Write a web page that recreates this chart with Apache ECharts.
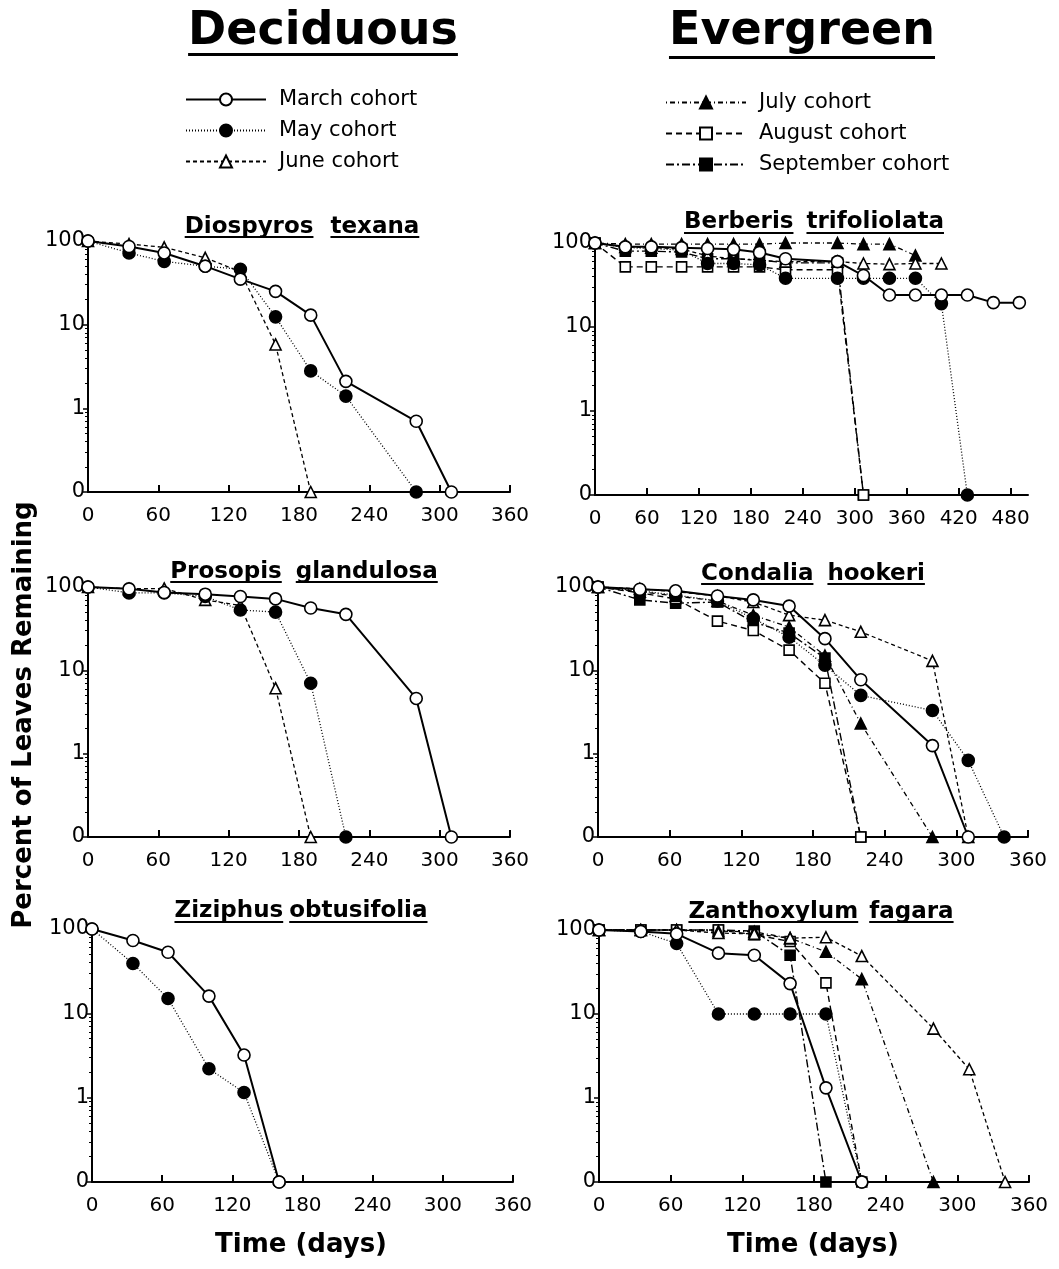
<!DOCTYPE html>
<html>
<head>
<meta charset="utf-8">
<title>Percent of leaves remaining</title>
<script src="https://cdn.jsdelivr.net/npm/echarts@6/dist/echarts.min.js"></script>
<style>
html, body { margin: 0; padding: 0; background: #fff; }
#chart { width: 1059px; height: 1269px; }
</style>
</head>
<body>
<div id="chart"></div>
<script>
// y axis is log10(percent); a value of 0 is drawn one decade below 1
var yTickLabels = ['0', '1', '10', '100']

// Diospyros texana
var diosDays = [0, 35, 65, 100, 130, 160, 190, 220, 280, 310]
var diosMarch = [100, 86, 72, 50, 35, 25, 13, 2.1, 0.7, 0]
var diosMay = [100, 72, 57, 50, 46, 12.4, 2.8, 1.4, 0]
var diosJune = [100, 92, 84, 63, 43, 5.8, 0]

// Prosopis glandulosa
var prosDays = [0, 35, 65, 100, 130, 160, 190, 220, 280, 310]
var prosMarch = [100, 95, 86, 82, 77, 72, 56, 47, 4.6, 0]
var prosMay = [100, 85, 85, 77, 53, 50, 7, 0]
var prosJune = [100, 95, 96, 70, 60, 6.1, 0]

// Ziziphus obtusifolia
var zizDays = [0, 35, 65, 100, 130, 160]
var zizMarch = [100, 73, 53, 16, 3.2, 0]
var zizMay = [100, 39, 15, 2.2, 1.15, 0]

// Berberis trifoliolata
var berbDays = [0, 35, 65, 100, 130, 160, 190, 220, 280, 310, 340, 370, 400, 430, 460, 490]
var berbMarch = [100, 90, 90, 88, 86, 84, 77, 65, 60, 41, 24, 24, 24, 24, 19.5, 19.5]
var berbMay = [100, 88, 86, 82, 57, 57, 55, 38, 38, 38, 38, 38, 19, 0]
var berbJune = [100, 90, 88, 85, 70, 65, 62, 60, 60, 57, 56, 57, 57]
var berbJuly = [100, 97, 97, 97, 97, 97, 97, 100, 100, 97, 97, 71]
var berbAug = [100, 52, 52, 52, 52, 52, 52, 48, 48, 0]
var berbSep = [100, 80, 80, 78, 65, 65, 63, 58, 58, 0]

// Condalia hookeri
var condDays = [0, 35, 65, 100, 130, 160, 190, 220, 280, 310, 340]
var condMarch = [100, 94, 90, 78, 70, 59, 24, 7.7, 1.25, 0]
var condMay = [100, 90, 80, 68, 42, 25, 11.5, 5, 3.3, 0.83, 0]
var condJune = [100, 95, 88, 78, 66, 46, 40, 29, 13, 0]
var condJuly = [100, 88, 78, 68, 46, 33, 15, 2.3, 0]
var condAug = [100, 85, 72, 39, 30, 17.5, 7, 0]
var condSep = [100, 70, 64, 66, 38, 28, 14, 0]

// Zanthoxylum fagara
var zanDays = [0, 35, 65, 100, 130, 160, 190, 220, 280, 310, 340]
var zanMarch = [100, 96, 90, 53, 50, 23, 1.32, 0]
var zanMay = [100, 96, 69, 10, 10, 10, 10, 0]
var zanJune = [100, 100, 100, 92, 90, 80, 82, 49, 6.7, 2.2, 0]
var zanJuly = [100, 100, 100, 97, 95, 80, 55, 26, 0]
var zanAug = [100, 100, 100, 100, 88, 73, 23.5, 0]
var zanSep = [100, 100, 100, 100, 97, 50, 0]

var FONT = '"DejaVu Sans", "Liberation Sans", sans-serif'

// look of each cohort
var cohortStyle = {
  'March cohort': { symbol: 'circle', size: 12, fill: '#fff', width: 2, type: 'solid' },
  'May cohort': { symbol: 'circle', size: 12, fill: '#000', width: 1.3, type: [1, 2] },
  'June cohort': { symbol: 'triangle', size: 11, fill: '#fff', width: 1.3, type: [4, 3] },
  'July cohort': { symbol: 'triangle', size: 11, fill: '#000', width: 1.3, type: [1, 3, 5, 3] },
  'August cohort': { symbol: 'rect', size: 10, fill: '#fff', width: 1.4, type: [6, 4] },
  'September cohort': { symbol: 'rect', size: 10, fill: '#000', width: 1.4, type: [8, 3, 2, 3] }
}

var panels = [
  { words: ['Diospyros', 'texana'], gap: 17, cx: 302, ty: 227, uy: 236,
    grid: { left: 88, top: 241, width: 422, height: 251 }, xMax: 360,
    lines: [['June cohort', diosDays, diosJune], ['May cohort', diosDays, diosMay], ['March cohort', diosDays, diosMarch]] },
  { words: ['Berberis', 'trifoliolata'], gap: 13, cx: 814, ty: 222, uy: 232,
    grid: { left: 595, top: 243, width: 433, height: 252 }, xMax: 500,
    lines: [['September cohort', berbDays, berbSep], ['August cohort', berbDays, berbAug], ['July cohort', berbDays, berbJuly],
      ['June cohort', berbDays, berbJune], ['May cohort', berbDays, berbMay], ['March cohort', berbDays, berbMarch]] },
  { words: ['Prosopis', 'glandulosa'], gap: 14, cx: 304, ty: 572, uy: 581,
    grid: { left: 88, top: 587, width: 422, height: 250 }, xMax: 360,
    lines: [['June cohort', prosDays, prosJune], ['May cohort', prosDays, prosMay], ['March cohort', prosDays, prosMarch]] },
  { words: ['Condalia', 'hookeri'], gap: 14, cx: 813, ty: 574, uy: 583,
    grid: { left: 598, top: 587, width: 430, height: 250 }, xMax: 360,
    lines: [['September cohort', condDays, condSep], ['August cohort', condDays, condAug], ['July cohort', condDays, condJuly],
      ['June cohort', condDays, condJune], ['May cohort', condDays, condMay], ['March cohort', condDays, condMarch]] },
  { words: ['Ziziphus', 'obtusifolia'], gap: 6, cx: 301, ty: 911, uy: 921,
    grid: { left: 92, top: 929, width: 421, height: 253 }, xMax: 360,
    lines: [['May cohort', zizDays, zizMay], ['March cohort', zizDays, zizMarch]] },
  { words: ['Zanthoxylum', 'fagara'], gap: 11, cx: 821, ty: 912, uy: 921,
    grid: { left: 599, top: 930, width: 430, height: 252 }, xMax: 360,
    lines: [['September cohort', zanDays, zanSep], ['August cohort', zanDays, zanAug], ['July cohort', zanDays, zanJuly],
      ['June cohort', zanDays, zanJune], ['May cohort', zanDays, zanMay], ['March cohort', zanDays, zanMarch]] }
]

function toLog (v) {
  return v > 0 ? Math.log10(v) : -1
}

// log minor ticks 2..9 in each decade
var minorTicks = []
for (var d = -1; d < 2; d++) {
  for (var k = 2; k < 10; k++) minorTicks.push(d + Math.log10(k))
}

var measure = document.createElement('canvas').getContext('2d')
function textWidth (str, font) {
  measure.font = font
  return measure.measureText(str).width
}

// title with each word underlined separately
function underlinedTitle (words, gap, cx, ty, uy, size, thick) {
  var font = 'bold ' + size + 'px ' + FONT
  var widths = words.map(function (w) { return textWidth(w, font) })
  var total = widths.reduce(function (a, b) { return a + b }, 0) + gap * (words.length - 1)
  var x = cx - total / 2
  var out = []
  words.forEach(function (w, i) {
    out.push({ type: 'text', x: x, y: ty, style: { text: w, font: font, fill: '#000', textAlign: 'left', textVerticalAlign: 'middle' } })
    out.push({ type: 'rect', shape: { x: x, y: uy, width: widths[i], height: thick }, style: { fill: '#000' } })
    x += widths[i] + gap
  })
  return out
}

var grids = []
var xAxes = []
var yAxes = []
var series = []
var graphics = []

panels.forEach(function (p, i) {
  grids.push(Object.assign({ outerBoundsMode: 'none', containLabel: false }, p.grid))
  xAxes.push({
    gridIndex: i, type: 'value', min: 0, max: p.xMax, interval: 60,
    axisLine: { show: true, onZero: false, lineStyle: { color: '#000', width: 2 } },
    axisTick: { show: true, inside: true, length: 7, lineStyle: { color: '#000', width: 2 } },
    axisLabel: { color: '#000', fontSize: 20, fontFamily: FONT, margin: 14, showMaxLabel: p.xMax === 360 },
    splitLine: { show: false }
  })
  yAxes.push({
    gridIndex: i, type: 'value', min: -1, max: 2, interval: 1,
    axisLine: { show: true, onZero: false, lineStyle: { color: '#000', width: 2 } },
    axisTick: { show: true, inside: false, length: 5, lineStyle: { color: '#000', width: 1.5 } },
    axisLabel: { color: '#000', fontSize: 21, fontFamily: FONT, margin: 3,
      formatter: function (v) { return yTickLabels[Math.round(v) + 1] } },
    splitLine: { show: false }
  })
  yAxes.push({
    gridIndex: i, type: 'value', min: -1, max: 2,
    axisLine: { show: false },
    axisTick: { show: true, inside: true, length: 3, customValues: minorTicks, lineStyle: { color: '#000', width: 1 } },
    axisLabel: { show: false },
    splitLine: { show: false }
  })
  p.lines.forEach(function (l) {
    var st = cohortStyle[l[0]]
    var days = l[1]
    series.push({
      type: 'line',
      name: l[0],
      xAxisIndex: i,
      yAxisIndex: i * 2,
      data: l[2].map(function (v, j) { return [days[j], toLog(v)] }),
      symbol: st.symbol,
      symbolSize: st.size,
      showSymbol: true,
      clip: false,
      itemStyle: { color: st.fill, borderColor: '#000', borderWidth: 1.6 },
      lineStyle: { color: '#000', width: st.width, type: st.type },
      emphasis: { disabled: true }
    })
  })
  graphics = graphics.concat(underlinedTitle(p.words, p.gap, p.cx, p.ty, p.uy, 23, 2))
})

graphics = graphics.concat(underlinedTitle(['Deciduous'], 0, 323, 32, 53, 46, 3))
graphics = graphics.concat(underlinedTitle(['Evergreen'], 0, 802, 32, 56, 46, 3))

graphics.push({ type: 'text', x: 24, y: 715, rotation: Math.PI / 2,
  style: { text: 'Percent of Leaves Remaining', font: 'bold 26px ' + FONT, fill: '#000', textAlign: 'center', textVerticalAlign: 'middle' } })
graphics.push({ type: 'text', x: 301, y: 1245,
  style: { text: 'Time (days)', font: 'bold 26px ' + FONT, fill: '#000', textAlign: 'center', textVerticalAlign: 'middle' } })
graphics.push({ type: 'text', x: 813, y: 1245,
  style: { text: 'Time (days)', font: 'bold 26px ' + FONT, fill: '#000', textAlign: 'center', textVerticalAlign: 'middle' } })

var legendCommon = {
  orient: 'vertical', itemWidth: 80, itemHeight: 15, itemGap: 10, selectedMode: false,
  textStyle: { color: '#000', fontSize: 21, fontFamily: FONT, padding: [0, 0, 0, 8] }
}

var option = {
  backgroundColor: '#fff',
  animation: false,
  grid: grids,
  xAxis: xAxes,
  yAxis: yAxes,
  legend: [
    Object.assign({ left: 180, top: 84, data: ['March cohort', 'May cohort', 'June cohort'] }, legendCommon),
    Object.assign({ left: 660, top: 87, data: ['July cohort', 'August cohort', 'September cohort'] }, legendCommon)
  ],
  graphic: graphics,
  series: series
}

var chart = echarts.init(document.getElementById('chart'))
chart.setOption(option)
</script>
</body>
</html>
